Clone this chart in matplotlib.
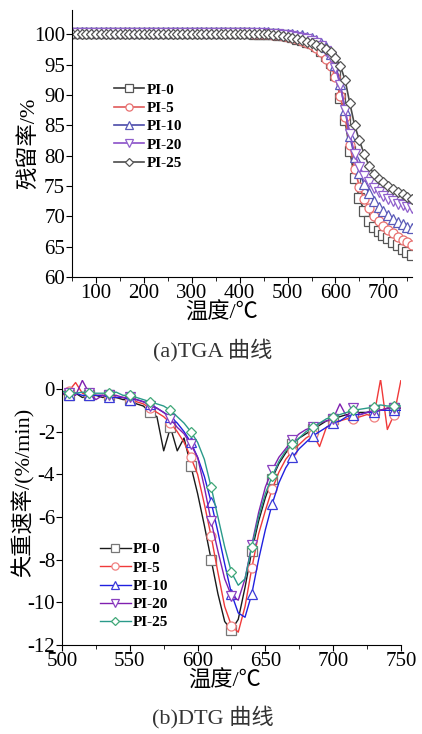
import matplotlib
matplotlib.use('Agg')
import matplotlib.pyplot as plt
from matplotlib.ticker import MultipleLocator

plt.rcParams['font.family'] = ['Liberation Serif', 'Noto Sans CJK SC', 'DejaVu Sans']
plt.rcParams['axes.unicode_minus'] = False

labels = ['PI-0', 'PI-5', 'PI-10', 'PI-20', 'PI-25']

# (a) TGA, temperature every 10 C from 50 to 760
tga_temp = list(range(50, 761, 10))
tga_pi0 = [100.2, 100.2, 100.2, 100.2, 100.2, 100.2, 100.2, 100.2, 100.2, 100.2, 100.2, 100.2,
           100.2, 100.2, 100.2, 100.2, 100.2, 100.2, 100.2, 100.2, 100.2, 100.2, 100.2, 100.2,
           100.2, 100.2, 100.2, 100.2, 100.2, 100.2, 100.2, 100.2, 100.2, 100.2, 100.2, 100.2,
           100.2, 100.2, 100.1, 100.1, 100.1, 100.0, 100.0, 99.9, 99.8, 99.7, 99.5, 99.3,
           99.1, 98.8, 98.5, 98.0, 97.3, 96.4, 95.2, 93.3, 89.5, 85.8, 80.8, 76.3,
           73.0, 70.8, 69.3, 68.3, 67.6, 67.0, 66.4, 65.8, 65.2, 64.6, 64.1, 63.7]
tga_pi5 = [100.2, 100.2, 100.2, 100.2, 100.2, 100.2, 100.2, 100.2, 100.2, 100.2, 100.2, 100.2,
           100.2, 100.2, 100.2, 100.2, 100.2, 100.2, 100.2, 100.2, 100.2, 100.2, 100.2, 100.2,
           100.2, 100.2, 100.2, 100.2, 100.2, 100.2, 100.2, 100.2, 100.2, 100.2, 100.2, 100.2,
           100.2, 100.2, 100.1, 100.1, 100.0, 100.0, 99.9, 99.8, 99.7, 99.6, 99.4, 99.2,
           98.9, 98.6, 98.3, 97.8, 97.0, 96.0, 94.8, 93.0, 89.8, 86.3, 81.8, 77.8,
           74.9, 72.8, 71.3, 70.1, 69.2, 68.4, 67.8, 67.2, 66.6, 66.1, 65.7, 65.3]
tga_pi10 = [100.3, 100.3, 100.3, 100.3, 100.3, 100.3, 100.3, 100.3, 100.3, 100.3, 100.3, 100.3,
            100.3, 100.3, 100.3, 100.3, 100.3, 100.3, 100.3, 100.3, 100.3, 100.3, 100.3, 100.3,
            100.3, 100.3, 100.3, 100.3, 100.3, 100.3, 100.3, 100.3, 100.3, 100.3, 100.3, 100.3,
            100.3, 100.3, 100.3, 100.3, 100.3, 100.3, 100.2, 100.2, 100.1, 100.1, 100.0, 99.9,
            99.8, 99.6, 99.4, 99.1, 98.6, 97.9, 96.8, 95.0, 91.8, 87.5, 83.2, 79.8,
            77.2, 75.3, 73.8, 72.6, 71.6, 70.8, 70.2, 69.6, 69.1, 68.7, 68.3, 68.0]
tga_pi20 = [100.2, 100.2, 100.2, 100.2, 100.2, 100.2, 100.2, 100.2, 100.2, 100.2, 100.2, 100.2,
            100.2, 100.2, 100.2, 100.2, 100.2, 100.2, 100.2, 100.2, 100.2, 100.2, 100.2, 100.2,
            100.2, 100.2, 100.2, 100.2, 100.2, 100.2, 100.2, 100.2, 100.2, 100.2, 100.2, 100.2,
            100.2, 100.2, 100.2, 100.2, 100.2, 100.1, 100.1, 100.0, 99.9, 99.8, 99.7, 99.6,
            99.4, 99.2, 98.9, 98.6, 98.0, 97.3, 96.2, 94.5, 91.6, 87.6, 83.6, 80.3,
            78.2, 76.7, 75.6, 74.7, 74.0, 73.4, 72.9, 72.5, 72.1, 71.8, 71.5, 71.3]
tga_pi25 = [100.1, 100.1, 100.1, 100.1, 100.1, 100.1, 100.1, 100.1, 100.1, 100.1, 100.1, 100.1,
            100.1, 100.1, 100.1, 100.1, 100.1, 100.1, 100.1, 100.1, 100.1, 100.1, 100.1, 100.1,
            100.1, 100.1, 100.1, 100.1, 100.1, 100.1, 100.1, 100.1, 100.1, 100.1, 100.1, 100.1,
            100.1, 100.1, 100.1, 100.1, 100.1, 100.0, 99.9, 99.8, 99.7, 99.6, 99.4, 99.2,
            99.0, 98.8, 98.5, 98.2, 97.9, 97.5, 97.0, 96.1, 94.8, 92.5, 88.6, 85.0,
            82.5, 80.2, 78.3, 77.0, 76.2, 75.6, 75.0, 74.5, 74.0, 73.6, 73.2, 72.9]

# (b) DTG, temperature every 5 C from 500 to 750
dtg_temp = list(range(500, 751, 5))
dtg_pi0 = [-0.2, -0.3, -0.2, -0.4, -0.3, -0.3, -0.4, -0.3, -0.4, -0.5, -0.5,
           -0.7, -0.8, -1.1, -1.3, -2.9, -1.8, -2.9, -2.3, -3.6, -4.9,
           -6.4, -8.0, -9.6, -10.9, -11.3, -10.8, -9.3, -7.6, -6.2, -5.1,
           -4.2, -3.5, -3.0, -2.6, -2.3, -2.1, -1.9, -1.7, -1.5, -1.4,
           -1.3, -1.2, -1.2, -1.1, -1.1, -1.0, -1.0, -0.9, -0.9, -0.9]
dtg_pi5 = [-0.3, -0.1, 0.3, -0.2, -0.3, -0.3, -0.3, -0.4, -0.4, -0.4, -0.5,
           -0.6, -0.7, -0.9, -1.1, -1.3, -1.6, -2.0, -2.5, -3.2, -4.0,
           -5.4, -6.9, -8.6, -10.2, -11.1, -11.4, -10.2, -8.4, -6.8, -5.7,
           -4.7, -3.9, -3.3, -2.9, -2.6, -2.3, -2.1, -2.7, -1.8, -1.6,
           -1.5, -1.4, -1.4, -1.3, -1.2, -1.3, 0.45, -1.9, -1.2, 0.4]
dtg_pi10 = [-0.2, -0.3, -0.2, -0.3, -0.3, -0.3, -0.3, -0.4, -0.4, -0.4, -0.5,
            -0.5, -0.6, -0.7, -0.9, -1.1, -1.3, -1.6, -2.0, -2.5, -3.2,
            -4.1, -5.3, -6.7, -8.2, -9.6, -10.5, -10.7, -9.6, -8.0, -6.6,
            -5.4, -4.4, -3.7, -3.2, -2.8, -2.5, -2.2, -2.0, -1.8, -1.6,
            -1.5, -1.3, -1.2, -1.2, -1.1, -1.1, -1.0, -1.0, -1.0, -1.0]
dtg_pi20 = [-0.2, -0.2, -0.3, 0.4, -0.2, -0.5, -0.3, -0.3, -0.3, -0.4, -0.4,
            -0.5, -0.6, -0.8, -0.9, -1.1, -1.4, -1.8, -2.1, -2.6, -3.2,
            -4.6, -6.2, -7.6, -8.9, -9.7, -9.9, -8.9, -7.3, -5.8, -4.6,
            -3.8, -3.2, -2.8, -2.4, -2.1, -1.9, -1.8, -1.6, -1.5, -1.4,
            -0.7, -1.3, -0.9, -1.2, -1.1, -1.0, -1.0, -0.9, -0.9, -0.9]
dtg_pi25 = [-0.1, -0.2, -0.2, -0.15, -0.2, -0.2, -0.2, -0.2, -0.15, -0.3, -0.3,
            -0.4, -0.5, -0.6, -0.7, -0.8, -1.0, -1.3, -1.6, -2.0, -2.5,
            -3.3, -4.6, -6.0, -7.4, -8.6, -9.2, -8.9, -7.4, -6.0, -4.9,
            -4.1, -3.4, -2.9, -2.6, -2.3, -2.0, -1.8, -1.6, -1.4, -1.3,
            -1.2, -1.1, -1.0, -0.95, -0.9, -0.85, -0.75, -0.8, -0.8, -0.8]

markers = ['s', 'o', '^', 'v', 'D']
tga_line = ['#3a3a3a', '#e05a5a', '#4a4aa8', '#8a4fc8', '#4a4a4a']
tga_edge = ['#555555', '#e87070', '#5a5ab8', '#9060cc', '#555555']
dtg_line = ['#1a1a1a', '#f03a3a', '#2020e0', '#8020b0', '#2a9a8a']
dtg_edge = ['#777777', '#f08080', '#3a3ad8', '#8a40c0', '#40a878']

fig = plt.figure(figsize=(4.22, 7.34), dpi=100)

# ---- TGA ----
ax1 = fig.add_axes([0.1706, 0.6226, 0.806, 0.3638])
for y, lab, m, c, e in zip([tga_pi0, tga_pi5, tga_pi10, tga_pi20, tga_pi25], labels,
                           markers, tga_line, tga_edge):
    ms = 5.5 if m == 'D' else 6.5
    ax1.plot(tga_temp, y, color=c, lw=1.2, marker=m, ms=ms, mfc='white', mec=e,
             mew=0.9, label=lab)
ax1.set_xlim(50, 760)
ax1.set_ylim(60, 104)
ax1.xaxis.set_major_locator(MultipleLocator(100))
ax1.xaxis.set_minor_locator(MultipleLocator(50))
ax1.yaxis.set_major_locator(MultipleLocator(5))
ax1.set_ylabel('残留率/%', fontsize=16)
ax1.yaxis.set_label_coords(-0.095, 0.5)
ax1.set_xlabel('温度/℃', fontsize=16)
ax1.xaxis.set_label_coords(0.441, -0.095)
leg1 = ax1.legend(loc='upper left', bbox_to_anchor=(0.1, 0.755), frameon=False,
                  fontsize=11, handlelength=2.0, handletextpad=0.15, labelspacing=0.3,
                  borderpad=0, markerscale=0.8)
for t in leg1.get_texts():
    t.set_fontweight('bold')
fig.text(213 / 422, 1 - 350 / 734, '(a)TGA 曲线', ha='center', va='center', fontsize=16,
         color='#333333')

# ---- DTG ----
ax2 = fig.add_axes([0.147, 0.1213, 0.803, 0.361])
for y, lab, m, c, e in zip([dtg_pi0, dtg_pi5, dtg_pi10, dtg_pi20, dtg_pi25], labels,
                           markers, dtg_line, dtg_edge):
    ms = 5.5 if m == 'D' else 6.5
    ax2.plot(dtg_temp, y, color=c, lw=1.0, marker=m, ms=ms, mfc='white', mec=e,
             mew=0.9, markevery=(1, 3), label=lab)
ax2.set_xlim(500, 750)
ax2.set_ylim(-12, 0.42)
ax2.xaxis.set_major_locator(MultipleLocator(50))
ax2.xaxis.set_minor_locator(MultipleLocator(25))
ax2.yaxis.set_major_locator(MultipleLocator(2))
ax2.set_ylabel('失重速率/(%/min)', fontsize=16)
ax2.yaxis.set_label_coords(-0.08, 0.577)
ax2.set_xlabel('温度/℃', fontsize=16)
ax2.xaxis.set_label_coords(0.48, -0.095)
leg2 = ax2.legend(loc='upper left', bbox_to_anchor=(0.09, 0.415), frameon=False,
                  fontsize=11, handlelength=2.0, handletextpad=0.15, labelspacing=0.3,
                  borderpad=0, markerscale=0.8)
for t in leg2.get_texts():
    t.set_fontweight('bold')
fig.text(213 / 422, 1 - 717 / 734, '(b)DTG 曲线', ha='center', va='center', fontsize=16,
         color='#333333')

for ax in (ax1, ax2):
    ax.spines['top'].set_visible(False)
    ax.spines['right'].set_visible(False)
    ax.tick_params(which='both', direction='out', labelsize=15, pad=1)
    ax.tick_params(which='major', length=4)
    ax.tick_params(which='minor', length=3)

fig.savefig('out.png', dpi=100)
